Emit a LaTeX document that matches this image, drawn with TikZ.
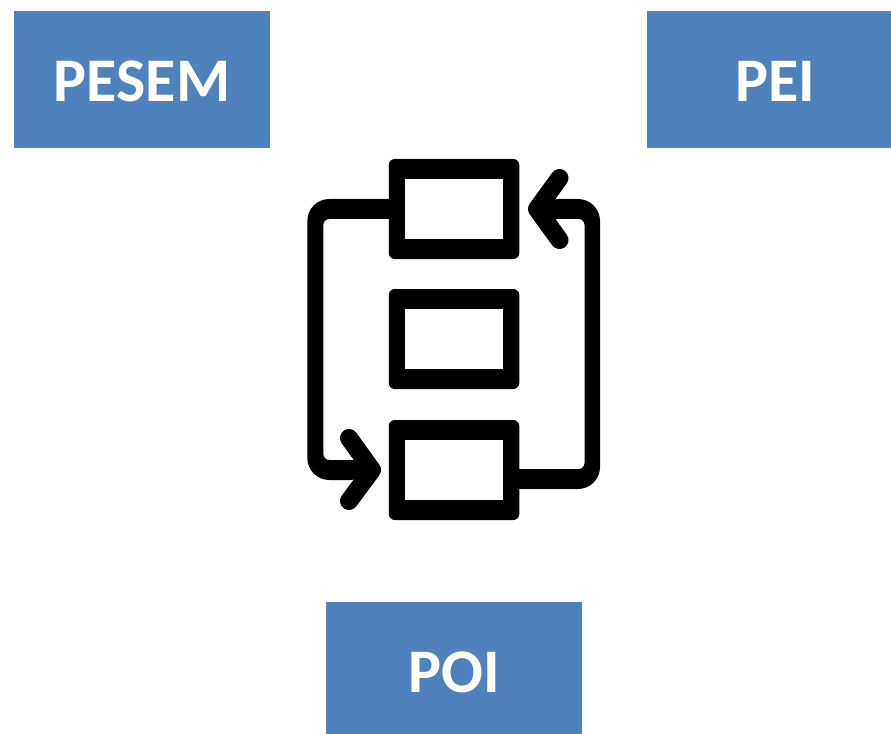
\documentclass[tikz,border=0pt]{standalone}
\usepackage{fontspec}
\usetikzlibrary{calc}
\setmainfont{Carlito}
\newdimen\pxu
\pxu=0.75pt
\definecolor{boxblue}{HTML}{4F81BD}
\tikzset{labelbox/.style={fill=boxblue,text=white,font=\bfseries\fontsize{46.5}{50}\selectfont,minimum width=256\pxu,inner sep=0pt,text height=44\pxu,text depth=0pt},
iconbox/.style={fill=black,rounded corners=6\pxu,minimum width=130.5\pxu,minimum height=100\pxu,inner sep=0pt,outer sep=0pt},
iconhole/.style={fill=white,minimum width=98\pxu,minimum height=60\pxu,inner sep=0pt},
iconfill/.style={fill=black},
iconhead/.style={draw=black,line width=18\pxu,line cap=round,line join=round}}
\begin{document}
\begin{tikzpicture}[x=0.75pt,y=-0.75pt]
\useasboundingbox (0,0) rectangle (891,734);
\node[labelbox,minimum height=137\pxu] (pesem) at (142,79.5) {PESEM};
\node[labelbox,minimum height=137\pxu] (pei) at (775,79.5) {PEI};
\node[labelbox,minimum height=132\pxu,text height=48\pxu] (poi) at (454,668) {POI};
% icon boxes
\node[iconbox] (top) at (454,209) {};
\node[iconbox] (mid) at (454,339) {};
\node[iconbox] (bot) at (454,470) {};
\node[iconhole] (tophole) at (top) {};
\node[iconhole] (midhole) at (mid) {};
\node[iconhole] (bothole) at (bot) {};
\coordinate (topin) at (537,209);
\coordinate (botin) at (372,470);
% connectors
\fill[iconfill,rounded corners=22\pxu] ($(top.west)+(5,-10)$) -- (307.3,199) -- (307.3,480) -- ($(botin)+(0,10)$)
  [rounded corners=6\pxu] -- ($(botin)+(0,-10)$) -- (323.3,460) -- (323.3,219) -- ($(top.west)+(5,10)$) -- cycle;
\fill[iconfill,rounded corners=22\pxu] ($(bot.east)+(-5,19)$) -- (600,489) -- (600,199) -- ($(topin)+(0,-10)$)
  [rounded corners=6\pxu] -- ($(topin)+(0,10)$) -- (584.5,219) -- (584.5,469) -- ($(bot.east)+(-5,-1)$) -- cycle;
% arrow heads
\draw[iconhead] (349,438) -- (botin) -- (349,501);
\draw[iconhead] (559.5,178) -- (topin) -- (559.5,240);
\end{tikzpicture}
\end{document}
